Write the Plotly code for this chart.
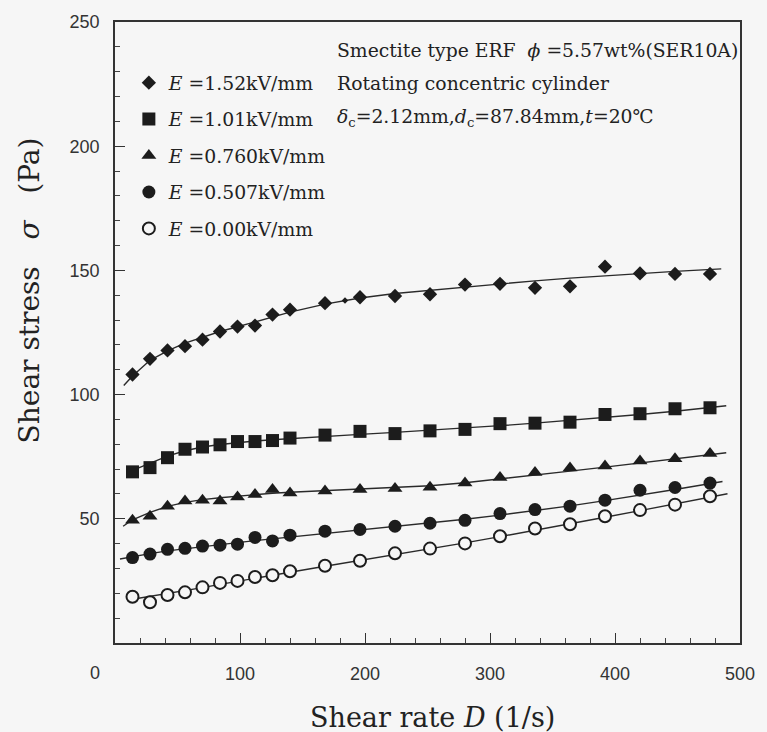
import plotly.graph_objects as go

# ---- data ----
shear_rate = [14, 28, 42, 56, 70, 84, 98, 112, 126, 140, 168, 196, 224,
              252, 280, 308, 336, 364, 392, 420, 448, 476]

stress_152 = [108.1, 114.4, 117.8, 119.5, 122.1, 125.4, 127.4, 127.8, 132.2, 134.2, 136.8,
              139.2, 139.7, 140.4, 144.3, 144.6, 143.0, 143.6, 151.5, 148.8, 148.6, 148.6]
stress_101 = [68.9, 70.6, 74.6, 78.0, 78.9, 79.8, 81.1, 81.1, 81.5, 82.5, 83.7,
              85.2, 84.3, 85.4, 86.0, 88.3, 88.5, 88.9, 92.0, 92.3, 94.3, 94.7]
stress_076 = [49.4, 51.0, 55.1, 57.2, 57.5, 57.2, 58.8, 59.8, 61.8, 60.4, 61.2,
              61.8, 62.2, 62.7, 64.4, 66.6, 68.6, 70.5, 71.3, 73.3, 74.2, 76.3]
stress_0507 = [34.4, 35.8, 37.7, 38.1, 39.0, 39.4, 39.8, 42.5, 41.1, 43.4, 45.0,
               45.7, 47.0, 48.2, 49.4, 52.1, 53.7, 55.1, 57.5, 61.5, 62.6, 64.4]
stress_000 = [18.6, 16.4, 19.3, 20.4, 22.4, 24.2, 25.0, 26.6, 27.3, 28.9, 31.1,
              33.1, 36.1, 38.0, 40.1, 43.0, 46.1, 47.8, 51.0, 53.5, 55.7, 59.1]

# small stray mark on the E=1.52 curve
stray_x = [184]
stray_y = [137.9]

# fitted curves
fit_x_152 = [7, 14, 28, 42, 56, 70, 84, 98, 112, 126, 140, 168, 196, 224, 252,
             280, 308, 336, 364, 392, 420, 448, 485]
fit_y_152 = [103.7, 107.5, 113.8, 117.6, 120.7, 123.2, 125.4, 127.3, 129.2, 131.3, 133.2,
             136.4, 138.9, 140.7, 142.0, 143.4, 144.7, 145.8, 146.9, 147.9, 148.8, 149.6, 150.6]
fit_x_101 = [14, 28, 42, 56, 70, 84, 98, 112, 126, 140, 168, 196, 224, 252,
             280, 308, 336, 364, 392, 420, 448, 489]
fit_y_101 = [69.5, 72.3, 75.2, 77.4, 78.9, 79.9, 80.7, 81.3, 81.8, 82.3, 83.2,
             84.0, 84.8, 85.6, 86.5, 87.5, 88.5, 89.6, 90.8, 92.0, 93.3, 95.5]
fit_x_076 = [6.5, 14, 28, 42, 56, 70, 84, 98, 112, 126, 140, 168, 196, 224, 252,
             280, 308, 336, 364, 392, 420, 448, 489]
fit_y_076 = [47.0, 49.6, 52.6, 55.0, 56.6, 57.7, 58.5, 59.2, 59.8, 60.3, 60.7,
             61.4, 62.0, 62.6, 63.3, 64.5, 66.0, 67.6, 69.2, 70.8, 72.5, 74.2, 76.6]
fit_x_0507 = [4, 14, 28, 42, 56, 70, 84, 98, 112, 126, 140, 168, 196, 224, 252,
              280, 308, 336, 364, 392, 420, 448, 486]
fit_y_0507 = [33.8, 34.8, 36.0, 37.1, 38.0, 38.8, 39.6, 40.4, 41.2, 41.9, 42.6,
              44.1, 45.5, 46.9, 48.3, 49.8, 51.5, 53.3, 55.2, 57.3, 59.5, 61.8, 65.0]
fit_x_000 = [14, 28, 42, 56, 70, 84, 98, 112, 126, 140, 168, 196, 224, 252,
             280, 308, 336, 364, 392, 420, 448, 490]
fit_y_000 = [17.6, 18.7, 19.8, 21.0, 22.3, 23.6, 24.9, 26.1, 27.3, 28.5, 30.9,
             33.2, 35.5, 37.9, 40.3, 42.8, 45.3, 47.9, 50.6, 53.3, 56.1, 60.1]

legend_names = ["<i>E</i> =1.52kV/mm", "<i>E</i> =1.01kV/mm", "<i>E</i> =0.760kV/mm",
                "<i>E</i> =0.507kV/mm", "<i>E</i> =0.00kV/mm"]

x_tick_vals = [100, 200, 300, 400, 500]
y_tick_vals = [50, 100, 150, 200, 250]

# ---- styling ----
BG = "#f6f6f6"
INK = "#1c1c1c"
SERIF = "DejaVu Serif, Liberation Serif, serif"
SANS = "Liberation Sans, Arial, sans-serif"

fig = go.Figure()

fits = [(fit_x_152, fit_y_152), (fit_x_101, fit_y_101), (fit_x_076, fit_y_076),
        (fit_x_0507, fit_y_0507), (fit_x_000, fit_y_000)]
for fx, fy in fits:
    fig.add_trace(go.Scatter(x=fx, y=fy, mode="lines", line=dict(color="#2a2a2a", width=1.4),
                             showlegend=False, hoverinfo="skip"))

fig.add_trace(go.Scatter(x=stray_x, y=stray_y, mode="markers",
                         marker=dict(symbol="diamond", size=5, color=INK),
                         showlegend=False, hoverinfo="skip"))

series = [stress_152, stress_101, stress_076, stress_0507, stress_000]
markers = [
    dict(symbol="diamond", size=11, color=INK),
    dict(symbol="square", size=13, color=INK),
    dict(symbol="triangle-up", size=13, color=INK),
    dict(symbol="circle", size=13, color=INK),
    dict(symbol="circle", size=12, color=BG, line=dict(color=INK, width=2)),
]
for i, (ys, mk, nm) in enumerate(zip(series, markers, legend_names)):
    fig.add_trace(go.Scatter(x=shear_rate, y=ys, mode="markers", marker=mk, name=nm,
                             legendgroup=f"g{i}"))

# plot-area pixel geometry
L, R, T, B = 115, 21, 21, 89
W, H = 767, 732
pw, ph = W - L - R, H - T - B

def px2paper(px, py):
    return (px - L) / pw, (H - B - py) / ph

ann = []
for txt, py in [("Smectite type ERF  <i>ϕ</i> =5.57wt%(SER10A)", 50),
                ("Rotating concentric cylinder", 83),
                ("<i>δ</i><sub>c</sub>=2.12mm,<i>d</i><sub>c</sub>=87.84mm,<i>t</i>=20℃", 117)]:
    ax, ay = px2paper(337, py)
    ann.append(dict(x=ax, y=ay, xref="paper", yref="paper", text=txt, showarrow=False,
                    xanchor="left", yanchor="middle",
                    font=dict(family=SERIF, size=18.8, color="#222")))

zx, zy = px2paper(95, 673)
ann.append(dict(x=zx, y=zy, xref="paper", yref="paper", text="0", showarrow=False,
                xanchor="center", yanchor="middle", font=dict(family=SANS, size=18, color="#333")))
tx, ty = px2paper(29, 290)
ann.append(dict(x=tx, y=ty, xref="paper", yref="paper", text="Shear stress   <i>σ</i>   (Pa)",
                showarrow=False, textangle=-90, xanchor="center", yanchor="middle",
                font=dict(family=SERIF, size=28, color="#222")))
bx, by = px2paper(436, 718)
ann.append(dict(x=bx, y=by, xref="paper", yref="paper", text="Shear rate <i>D</i> (1/s)",
                showarrow=False, xanchor="center", yanchor="middle",
                font=dict(family=SERIF, size=27, color="#222")))

lx, ly = px2paper(129, 63)
fig.update_layout(
    width=W, height=H, autosize=False,
    margin=dict(l=L, r=R, t=T, b=B, pad=0),
    paper_bgcolor=BG, plot_bgcolor=BG,
    showlegend=True,
    legend=dict(x=lx, y=ly, xanchor="left", yanchor="top", bgcolor="rgba(0,0,0,0)",
                font=dict(family=SERIF, size=18.8, color="#222"), traceorder="grouped",
                tracegroupgap=9, itemsizing="trace"),
    annotations=ann,
)
fig.update_xaxes(range=[0, 500], tickvals=x_tick_vals, ticks="inside", ticklen=10,
                 tickwidth=1.3, tickcolor="#333", showline=True, linecolor="#333", linewidth=1.6,
                 mirror=True, showgrid=False, zeroline=False,
                 tickfont=dict(family=SANS, size=18, color="#333"), ticklabelstandoff=14,
                 minor=dict(dtick=20, ticks="inside", ticklen=5, tickwidth=1, tickcolor="#444"))
fig.update_yaxes(range=[0, 250], tickvals=y_tick_vals, ticks="inside", ticklen=10,
                 tickwidth=1.3, tickcolor="#333", showline=True, linecolor="#333", linewidth=1.6,
                 mirror=True, showgrid=False, zeroline=False,
                 tickfont=dict(family=SANS, size=18, color="#333"), ticklabelstandoff=10,
                 minor=dict(dtick=10, ticks="inside", ticklen=5, tickwidth=1, tickcolor="#444"))

fig.write_html("out.html")
